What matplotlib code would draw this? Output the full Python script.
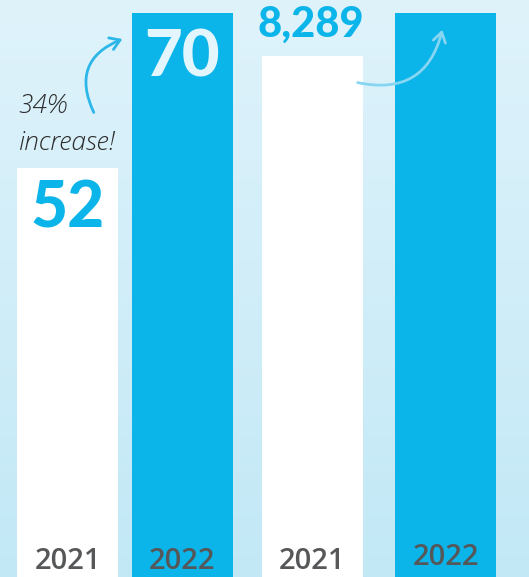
import numpy as np
import matplotlib
matplotlib.use("Agg")
import matplotlib.pyplot as plt
from matplotlib.colors import LinearSegmentedColormap

# ---- data ----
years = ["2021", "2022", "2021", "2022"]
group1_values = [52, 70]          # first pair
group2_values = [8289, 8926]      # second pair (2022 value estimated, label not visible)
group1_labels = ["52", "70"]
group2_labels = ["8,289", None]
note_lines = ["34%", "increase!"]

# ---- style / layout ----
W, H = 529, 577
BLUE = "#0BB4E9"
WHITE = "#FFFFFF"
GREY = "#555759"
bar_colors = [WHITE, BLUE, WHITE, BLUE]
centers = [67.5, 182.5, 312.5, 445.5]
bar_w = 101
base_px = 616      # baseline (below figure), pixels from top
top_px = 13        # pixel row reached by the tallest bar of each pair

fig = plt.figure(figsize=(W / 100, H / 100), dpi=100)

# background gradient
bg = fig.add_axes([0, 0, 1, 1])
cmap = LinearSegmentedColormap.from_list("bg", ["#DFF3FB", "#C2E8F6"])
grad = np.linspace(0, 1, 256).reshape(-1, 1)
bg.imshow(grad, aspect="auto", cmap=cmap, extent=[0, 1, 0, 1], origin="upper")
bg.set_axis_off()

def ylims(vmax):
    k = (base_px - top_px) / vmax
    return (base_px - H) / k, base_px / k

ax1 = fig.add_axes([0, 0, 1, 1])
ax1.set_facecolor("none")
ax1.set_xlim(0, W)
ax1.set_ylim(*ylims(max(group1_values)))
ax1.set_axis_off()

ax2 = ax1.twinx()
ax2.set_facecolor("none")
ax2.set_ylim(*ylims(max(group2_values)))
ax2.set_axis_off()

ax1.bar(centers[:2], group1_values, width=bar_w, color=bar_colors[:2], zorder=2)
ax2.bar(centers[2:], group2_values, width=bar_w, color=bar_colors[2:], zorder=2)

num_font = dict(family="Lato", weight="black")

# value labels
ax1.annotate(group1_labels[0], xy=(centers[0], group1_values[0]), xytext=(0, -43),
             textcoords="offset points", ha="center", va="baseline",
             fontsize=46, color=BLUE, **num_font)
ax1.annotate(group1_labels[1], xy=(centers[1], group1_values[1]), xytext=(0, -46),
             textcoords="offset points", ha="center", va="baseline",
             fontsize=47, color="#E3F6FD", **num_font)
ax2.annotate(group2_labels[0], xy=(centers[2], group2_values[0]), xytext=(-1, 14),
             textcoords="offset points", ha="center", va="baseline",
             fontsize=30, color=BLUE, **num_font)

# year labels (drawn at figure level so they sit above both bar layers)
year_y = [1, 1, 1, 5]   # pixels above the bottom edge
for c, y, yp in zip(centers, years, year_y):
    fig.text(c / W, yp / H, y, ha="center", va="bottom", fontsize=21, color=GREY,
             family="Open Sans", weight="semibold", zorder=10)

# handwritten note
fig.text(18 / W, (H - 113) / H, note_lines[0], fontsize=19, color="#2B2B2B",
         family="Open Sans", style="italic", weight="light", ha="left", va="baseline")
fig.text(18 / W, (H - 150) / H, note_lines[1], fontsize=19, color="#2B2B2B",
         family="Open Sans", style="italic", weight="light", ha="left", va="baseline")

# arrows
ax1.annotate("", xy=(125, H - 38), xytext=(95, H - 115),
             xycoords="figure pixels", textcoords="figure pixels",
             arrowprops=dict(arrowstyle="->,head_length=0.7,head_width=0.45",
                             color="#2DB7E8", lw=2,
                             connectionstyle="arc3,rad=-0.55"), zorder=5)
ax2.annotate("", xy=(443, H - 27), xytext=(355, H - 82),
             xycoords="figure pixels", textcoords="figure pixels",
             arrowprops=dict(arrowstyle="->,head_length=0.7,head_width=0.45",
                             color="#86D6F2", lw=2,
                             connectionstyle="arc3,rad=0.5"), zorder=5)

fig.savefig("out.png", dpi=100)
